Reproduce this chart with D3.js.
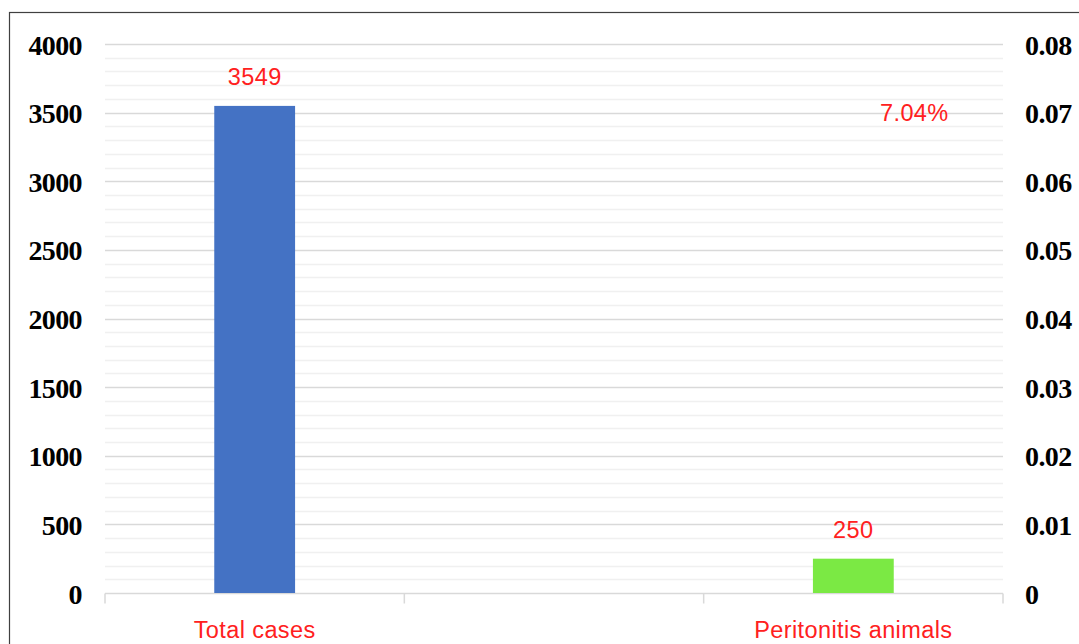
<!DOCTYPE html>
<html>
<head>
<meta charset="utf-8">
<script src="https://cdn.jsdelivr.net/npm/d3@7"></script>
<style>
  body { margin: 0; background: #fff; }
  svg { display: block; }
</style>
</head>
<body>
<div id="chart"></div>
<script>
// chart data
const categories = ["Total cases", "", "Peritonitis animals"];
const counts = [3549, null, 250];
const barColors = ["#4472c4", null, "#7be944"];
const countLabels = ["3549", null, "250"];
const percentValue = 0.0704;
const percentLabel = "7.04%";
const leftTicks = [0, 500, 1000, 1500, 2000, 2500, 3000, 3500, 4000];
const rightTicks = ["0", "0.01", "0.02", "0.03", "0.04", "0.05", "0.06", "0.07", "0.08"];

const W = 1079, H = 644;
const margin = {top: 44, right: 76, bottom: 51, left: 105},
    width = W - margin.left - margin.right,
    height = H - margin.top - margin.bottom;

const root = d3.select("#chart").append("svg")
    .attr("width", W)
    .attr("height", H);

// outer frame (extends past the picture on right / bottom)
root.append("rect")
    .attr("x", 9.5).attr("y", 12.5)
    .attr("width", W + 20).attr("height", H + 20)
    .attr("fill", "none")
    .attr("stroke", "#404040")
    .attr("stroke-width", 1.2);

const svg = root.append("g")
    .attr("transform", `translate(${margin.left},${margin.top})`);

const x = d3.scaleBand()
    .domain(d3.range(categories.length))
    .range([0, width])
    .paddingInner(0)
    .paddingOuter(0);

const y = d3.scaleLinear().domain([0, 4000]).range([height, 0]);
const y2 = d3.scaleLinear().domain([0, 0.08]).range([height, 0]);

// minor gridlines every 100
svg.append("g")
  .selectAll("line")
  .data(d3.range(100, 4000, 100).filter(v => v % 500 !== 0))
  .join("line")
    .attr("x1", 0).attr("x2", width)
    .attr("y1", d => Math.round(y(d)) + 0.5)
    .attr("y2", d => Math.round(y(d)) + 0.5)
    .attr("stroke", "#f0f0f0")
    .attr("stroke-width", 1.5);

// major gridlines
svg.append("g")
  .selectAll("line")
  .data(leftTicks.slice(1))
  .join("line")
    .attr("x1", 0).attr("x2", width)
    .attr("y1", d => Math.round(y(d)) + 0.5)
    .attr("y2", d => Math.round(y(d)) + 0.5)
    .attr("stroke", "#d9d9d9")
    .attr("stroke-width", 1.5);

const tickFont = "'Liberation Serif', 'Times New Roman', serif";

// left axis
svg.append("g")
    .call(d3.axisLeft(y).tickValues(leftTicks).tickSize(0).tickPadding(23).tickFormat(d3.format("d")))
    .call(g => g.select(".domain").remove())
    .selectAll("text")
    .attr("font-family", tickFont)
    .attr("font-weight", "bold")
    .attr("font-size", 28)
    .attr("letter-spacing", -0.6)
    .attr("fill", "#000")
    .attr("dy", "0.36em");

// right axis
svg.append("g")
    .attr("transform", `translate(${width},0)`)
    .call(d3.axisRight(y2).tickValues(rightTicks.map(Number)).tickSize(0).tickPadding(22)
      .tickFormat((d, i) => rightTicks[i]))
    .call(g => g.select(".domain").remove())
    .selectAll("text")
    .attr("font-family", tickFont)
    .attr("font-weight", "bold")
    .attr("font-size", 28)
    .attr("letter-spacing", -0.6)
    .attr("fill", "#000")
    .attr("dy", "0.36em");

// x axis baseline and ticks
const xAxis = svg.append("g").attr("transform", `translate(0,${height + 0.5})`);
xAxis.append("line")
    .attr("x1", 0).attr("x2", width)
    .attr("stroke", "#d9d9d9").attr("stroke-width", 1.5);
xAxis.selectAll(".tk")
  .data(d3.range(categories.length + 1))
  .join("line")
    .attr("class", "tk")
    .attr("x1", d => d === categories.length ? width : x(d))
    .attr("x2", d => d === categories.length ? width : x(d))
    .attr("y1", 0).attr("y2", 10)
    .attr("stroke", "#d9d9d9").attr("stroke-width", 1.5);

const labelFont = "'Liberation Sans', Arial, sans-serif";

xAxis.selectAll(".lbl")
  .data(categories)
  .join("text")
    .attr("class", "lbl")
    .attr("x", (d, i) => x(i) + x.bandwidth() / 2)
    .attr("y", 44)
    .attr("text-anchor", "middle")
    .attr("font-family", labelFont)
    .attr("font-size", 23.5)
    .attr("letter-spacing", 0.4)
    .attr("fill", "#ff2020")
    .text(d => d);

// bars
const barW = x.bandwidth() * 0.27;
const barData = counts.map((v, i) => ({i, v})).filter(d => d.v !== null);

svg.append("g")
  .selectAll("rect")
  .data(barData)
  .join("rect")
    .attr("x", d => x(d.i) + (x.bandwidth() - barW) / 2)
    .attr("y", d => y(d.v))
    .attr("width", barW)
    .attr("height", d => height - y(d.v))
    .attr("fill", d => barColors[d.i]);

// value labels
svg.append("g")
  .selectAll("text")
  .data(barData)
  .join("text")
    .attr("x", d => x(d.i) + x.bandwidth() / 2)
    .attr("y", d => y(d.v) - 21)
    .attr("text-anchor", "middle")
    .attr("font-family", labelFont)
    .attr("font-size", 23.5)
    .attr("letter-spacing", 0.4)
    .attr("fill", "#ff2020")
    .text(d => countLabels[d.i]);

// percentage label on secondary axis
svg.append("text")
    .attr("x", x(2) + x.bandwidth() / 2 + 61)
    .attr("y", y2(percentValue) + 11)
    .attr("text-anchor", "middle")
    .attr("font-family", labelFont)
    .attr("font-size", 23.5)
    .attr("letter-spacing", 0.4)
    .attr("fill", "#ff2020")
    .text(percentLabel);
</script>
</body>
</html>
